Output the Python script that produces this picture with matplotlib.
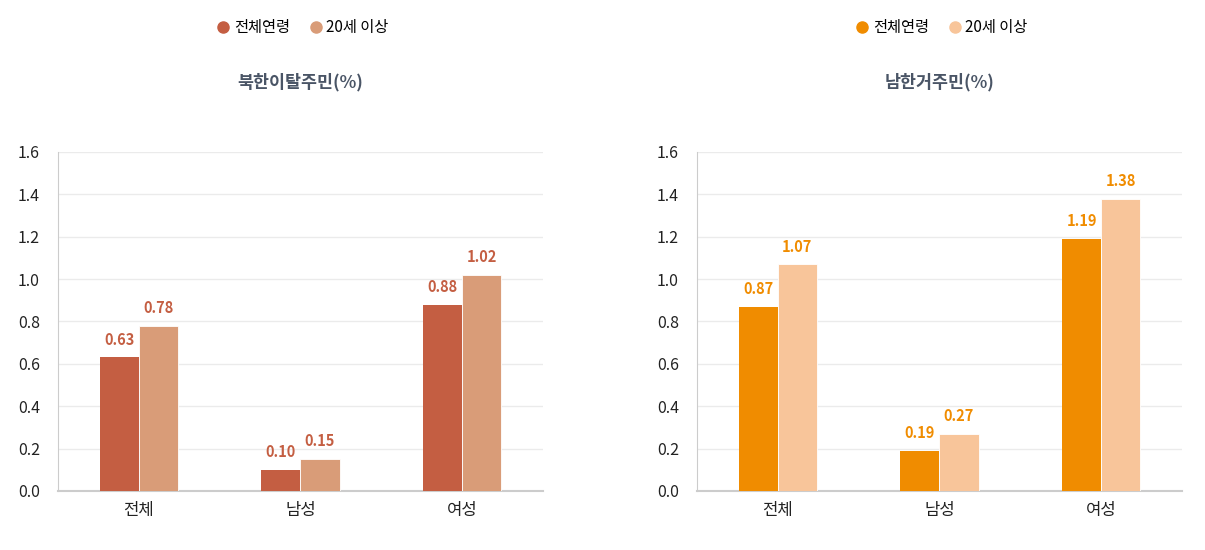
import matplotlib
matplotlib.use('Agg')
import matplotlib.pyplot as plt
import numpy as np

plt.rcParams['font.family'] = ['Noto Sans CJK KR', 'DejaVu Sans']

# 데이터
categories = ['전체', '남성', '여성']
series_names = ['전체연령', '20세 이상']
titles = ['북한이탈주민(%)', '남한거주민(%)']

defector_all = [0.63, 0.10, 0.88]
defector_20 = [0.78, 0.15, 1.02]
resident_all = [0.87, 0.19, 1.19]
resident_20 = [1.07, 0.27, 1.38]

yticks = [0.0, 0.2, 0.4, 0.6, 0.8, 1.0, 1.2, 1.4, 1.6]

panels = [
    (titles[0], defector_all, defector_20, '#C45E42', '#D99C78', '#C45E42'),
    (titles[1], resident_all, resident_20, '#F08C00', '#F8C59A', '#F08C00'),
]

fig = plt.figure(figsize=(12.05, 5.5), dpi=100)
lefts = [0.0481, 0.5784]

x = np.arange(len(categories))
w = 0.242

for left, (title, v1, v2, c1, c2, lab_c) in zip(lefts, panels):
    ax = fig.add_axes([left, 0.1073, 0.4025, 0.6164])
    b1 = ax.bar(x - w / 2, v1, w, color=c1, label=series_names[0], zorder=3)
    b2 = ax.bar(x + w / 2, v2, w, color=c2, label=series_names[1], zorder=3,
                edgecolor='#ffffff', linewidth=0.6)
    for bars, vals in [(b1, v1), (b2, v2)]:
        for b, v in zip(bars, vals):
            ax.annotate(f'{v:.2f}', (b.get_x() + b.get_width() / 2, v),
                        xytext=(0, 7), textcoords='offset points',
                        ha='center', va='bottom', fontsize=10.5,
                        fontweight='bold', color=lab_c)
    ax.set_xlim(-0.5, 2.5)
    ax.set_ylim(0, 1.6)
    ax.set_yticks(yticks)
    ax.set_yticklabels([f'{t:.1f}' for t in yticks], fontsize=11.5, color='#222222')
    ax.set_xticks(x)
    ax.set_xticklabels(categories, fontsize=12, color='#222222')
    ax.tick_params(axis='both', length=0)
    ax.tick_params(axis='y', pad=13)
    ax.tick_params(axis='x', pad=8)
    ax.yaxis.grid(True, color='#ebebeb', linewidth=1, zorder=0)
    for s in ['top', 'right']:
        ax.spines[s].set_visible(False)
    ax.spines['left'].set_color('#cccccc')
    ax.spines['bottom'].set_color('#cccccc')
    ax.spines['bottom'].set_linewidth(1.5)
    ax.set_title(title, fontsize=12.5, fontweight='bold', color='#4a5566',
                 y=1.165)
    ax.legend(handles=[
        plt.Line2D([], [], marker='o', linestyle='', markersize=8, color=c1),
        plt.Line2D([], [], marker='o', linestyle='', markersize=8, color=c2)],
        labels=series_names, loc='center', bbox_to_anchor=(0.5, 1.366),
        ncol=2, frameon=False, fontsize=11, handletextpad=0.0,
        handlelength=1.4, columnspacing=1.0)

fig.savefig('out.png', dpi=100, facecolor='white')
